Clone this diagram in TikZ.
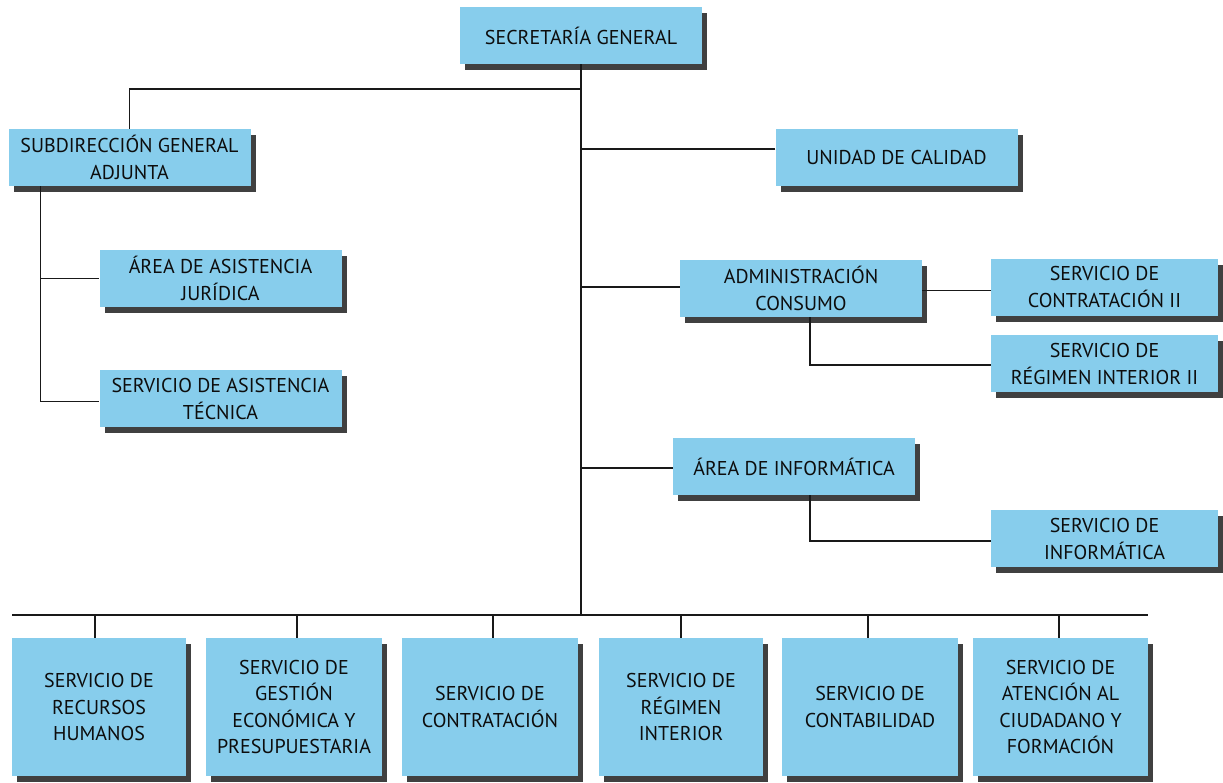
\documentclass[tikz,border=0pt]{standalone}
\usepackage{fontspec}
\setmainfont{PT Sans}
\usetikzlibrary{shadows}
\definecolor{boxblue}{RGB}{135,205,236}
\definecolor{shadowgray}{RGB}{64,64,64}
\begin{document}
\begin{tikzpicture}[x=1pt,y=-1pt,
  unit/.style={rectangle, fill=boxblue, draw=none, inner sep=0pt, align=center,
    font=\fontsize{20}{27}\selectfont, text=black!95,
    drop shadow={shadow xshift=5pt, shadow yshift=-6pt, fill=shadowgray, opacity=1}},
  wide/.style={unit, minimum width=242pt, minimum height=57pt},
  side/.style={unit, minimum width=227pt, minimum height=57pt},
  low/.style={unit, minimum height=138pt, font=\fontsize{20}{26.5}\selectfont},
  link/.style={line width=1.3pt, black!90}]
\useasboundingbox (0,0) rectangle (1223,782);

% top level and staff units
\node[wide] (sg)  at (581,35.5)    {SECRETARÍA GENERAL};
\node[wide] (sub) at (129.5,157.5) {SUBDIRECCIÓN GENERAL\\ADJUNTA};
\node[wide] (aj)  at (220.5,278.5) {ÁREA DE ASISTENCIA\\JURÍDICA};
\node[wide] (at)  at (220.5,398.5) {SERVICIO DE ASISTENCIA\\TÉCNICA};
\node[wide] (uc)  at (896.5,157.5) {UNIDAD DE CALIDAD};
\node[wide] (ac)  at (801,288.5)   {ADMINISTRACIÓN\\CONSUMO};
\node[side] (c2)  at (1104.5,287)  {SERVICIO DE\\CONTRATACIÓN II};
\node[side] (r2)  at (1104.5,363.5){SERVICIO DE\\RÉGIMEN INTERIOR II};
\node[wide] (ai)  at (794,466.5)   {ÁREA DE INFORMÁTICA};
\node[side] (si)  at (1104.5,538.5){SERVICIO DE\\INFORMÁTICA};

% services on the bottom row
\node[low, minimum width=174pt] (b1) at (99,707)    {SERVICIO DE\\RECURSOS\\HUMANOS};
\node[low, minimum width=176pt] (b2) at (294,707)   {SERVICIO DE\\GESTIÓN\\ECONÓMICA Y\\PRESUPUESTARIA};
\node[low, minimum width=176pt] (b3) at (490,707)   {SERVICIO DE\\CONTRATACIÓN};
\node[low, minimum width=164pt] (b4) at (681,707)   {SERVICIO DE\\RÉGIMEN\\INTERIOR};
\node[low, minimum width=176pt] (b5) at (870,707)   {SERVICIO DE\\CONTABILIDAD};
\node[low, minimum width=175pt] (b6) at (1060.5,707){SERVICIO DE\\ATENCIÓN AL\\CIUDADANO Y\\FORMACIÓN};

% junction points
\coordinate (hub)  at (581,89);
\coordinate (bus)  at (581,615);
\coordinate (busL) at (12,615);
\coordinate (busR) at (1148,615);

% main spine and bottom bus
\draw[link] (sg.south) -- (bus);
\draw[link] (busL) -- (busR);
\foreach \n/\dx in {b1/-4, b2/3, b3/3, b4/0, b5/-2, b6/-1.5}
  \draw[link] ([xshift=\dx pt]\n.north) -- ([xshift=\dx pt]\n.north |- bus);

% left branch
\draw[link] (hub) -| (sub.north);
\draw[link] ([xshift=32pt]sub.south west) |- (aj.west);
\draw[link] ([xshift=32pt]sub.south west) |- ([yshift=-3pt]at.west);

% right branches from the spine
\draw[link] ([yshift=8.5pt]uc.west) -- ([yshift=8.5pt]uc.west -| bus);
\draw[link] ([yshift=1.5pt]ac.west) -- ([yshift=1.5pt]ac.west -| bus);
\draw[link] ([yshift=-1.5pt]ai.west) -- ([yshift=-1.5pt]ai.west -| bus);

% sub-units
\draw[link] ([yshift=-2pt]ac.east) -- ([yshift=-2pt]ac.east -| c2.west);
\draw[link] ([xshift=9pt]ac.south) |- ([yshift=-1.5pt]r2.west);
\draw[link] ([xshift=16pt]ai.south) |- ([yshift=-2.5pt]si.west);
\end{tikzpicture}
\end{document}
